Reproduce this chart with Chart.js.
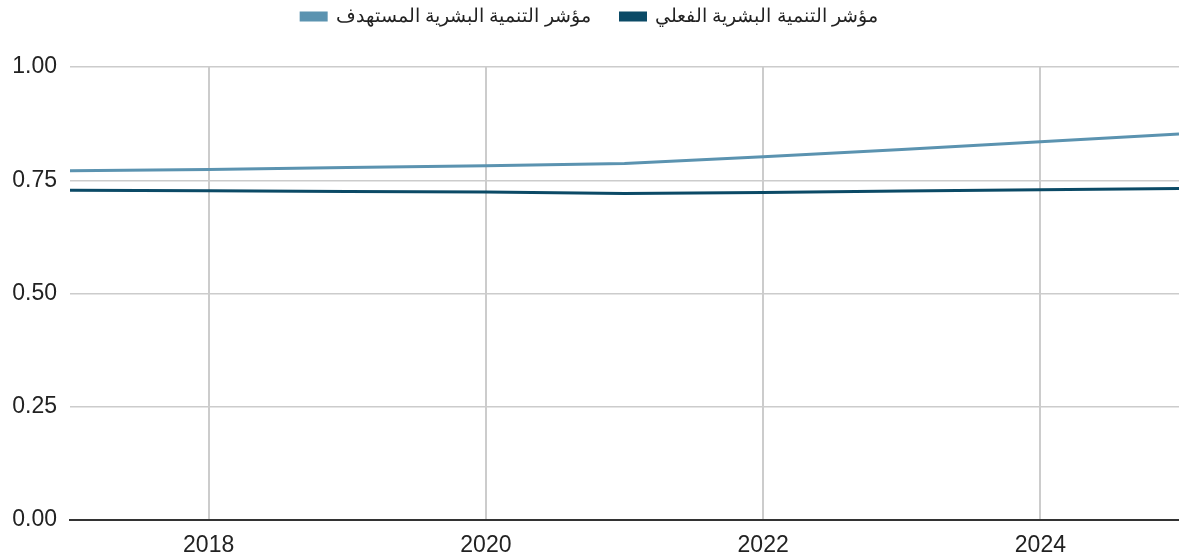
<!DOCTYPE html>
<html>
<head>
<meta charset="utf-8">
<script src="https://cdn.jsdelivr.net/npm/chart.js@4/dist/chart.umd.min.js"></script>
<style>
  html, body { margin: 0; padding: 0; background: #fff; }
  #wrap { width: 1179px; height: 560px; }
</style>
</head>
<body>
<div id="wrap"><canvas id="hdi-chart"></canvas></div>
<script>
const years = [2017, 2018, 2019, 2020, 2021, 2022, 2023, 2024, 2025];
const targetHdi = [0.771, 0.774, 0.778, 0.782, 0.787, 0.802, 0.818, 0.835, 0.852];
const actualHdi = [0.728, 0.727, 0.725, 0.724, 0.721, 0.723, 0.726, 0.729, 0.732];
const tickYears = [2018, 2020, 2022, 2024];
const targetLabel = 'مؤشر التنمية البشرية المستهدف';
const actualLabel = 'مؤشر التنمية البشرية الفعلي';

const toPoints = (vals) => vals.map((v, i) => ({ x: years[i], y: v }));

// leave some extra room between the legend and the plot
const legendGap = {
    id: 'legendGap',
    beforeUpdate(chart) {
        const lg = chart.legend;
        if (!lg || lg._gapPatched) return;
        const origFit = lg.fit;
        lg.fit = function () {
            origFit.call(this);
            this.height += 31;
        };
        lg._gapPatched = true;
    }
};

const ctx = document.getElementById('hdi-chart').getContext('2d');
new Chart(ctx, {
    type: 'line',
    data: {
        datasets: [
            {
                label: targetLabel,
                data: toPoints(targetHdi),
                borderColor: '#5b93b0',
                backgroundColor: '#5b93b0',
                borderWidth: 3,
                pointRadius: 0,
                tension: 0
            },
            {
                label: actualLabel,
                data: toPoints(actualHdi),
                borderColor: '#0b4a66',
                backgroundColor: '#0b4a66',
                borderWidth: 3,
                pointRadius: 0,
                tension: 0
            }
        ]
    },
    plugins: [legendGap],
    options: {
        responsive: true,
        maintainAspectRatio: false,
        animation: false,
        layout: { padding: { top: -23, right: 0, left: 0, bottom: 0 } },
        plugins: {
            legend: {
                position: 'top',
                labels: {
                    boxWidth: 25,
                    boxHeight: 7,
                    color: '#222',
                    font: { family: 'Liberation Sans, Arial, sans-serif', size: 19 },
                    padding: 30
                }
            },
            tooltip: { enabled: false }
        },
        scales: {
            x: {
                type: 'linear',
                min: 2017,
                max: 2025,
                afterBuildTicks: (scale) => {
                    scale.ticks = tickYears.map(v => ({ value: v }));
                },
                afterFit: (scale) => { scale.height = 40; },
                grid: { color: '#cccccc', lineWidth: 2, drawTicks: false },
                border: { display: true, color: '#333333', width: 2 },
                ticks: {
                    color: '#222',
                    padding: 12,
                    maxRotation: 0,
                    font: { family: 'Liberation Sans, Arial, sans-serif', size: 23 },
                    callback: (v) => String(v)
                }
            },
            y: {
                min: 0,
                max: 1,
                afterFit: (scale) => { scale.width = 70; },
                grid: { color: '#cccccc', lineWidth: 1.5, drawTicks: false },
                border: { display: false },
                ticks: {
                    stepSize: 0.25,
                    color: '#222',
                    padding: 13,
                    font: { family: 'Liberation Sans, Arial, sans-serif', size: 23 },
                    callback: (v) => v.toFixed(2)
                }
            }
        }
    }
});
</script>
</body>
</html>
